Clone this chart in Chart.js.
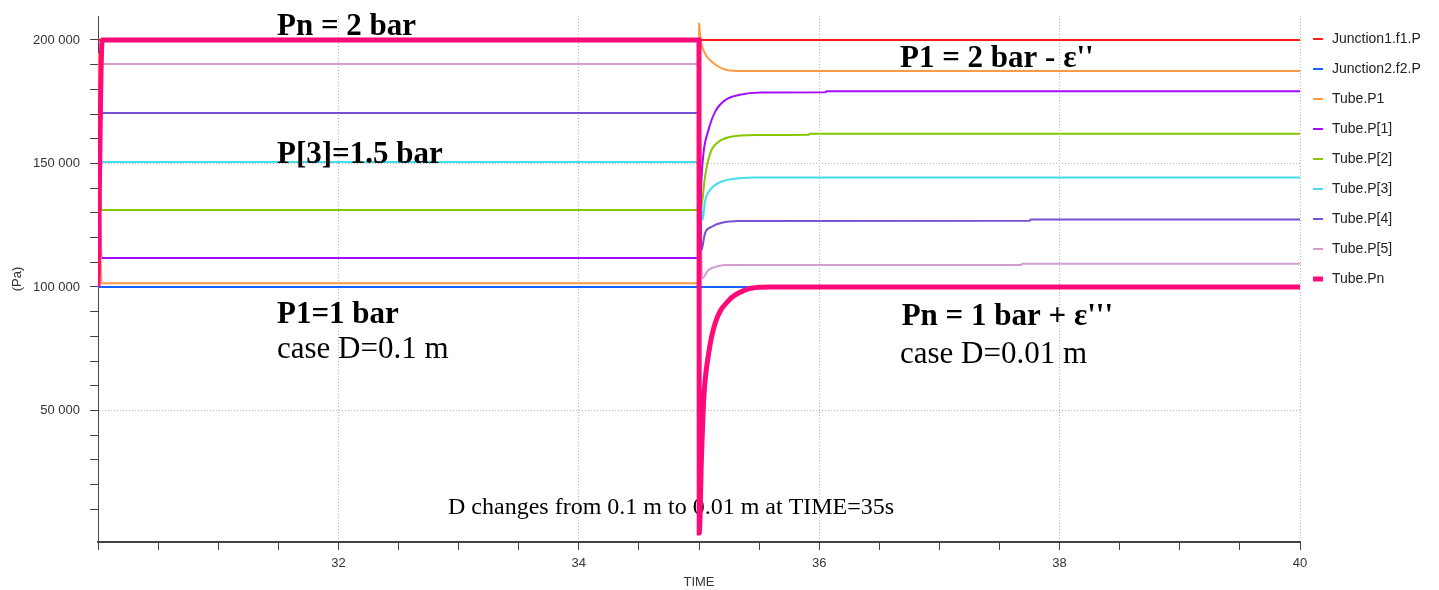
<!DOCTYPE html>
<html>
<head>
<meta charset="utf-8">
<script src="https://cdn.jsdelivr.net/npm/chart.js@4/dist/chart.umd.min.js"></script>
<style>
  body { margin: 0; background: #fff; }
  #wrap { width: 1439px; height: 590px; }
</style>
</head>
<body>
<div id="wrap"><canvas id="pressureChart"></canvas></div>
<script>
// time (s) / pressure (Pa) pairs
const tJ1 = [30, 40];
const pJ1 = [200000, 200000];
const tJ2 = [30, 40];
const pJ2 = [100000, 100000];
const tP1 = [30, 30.03, 35, 35.001, 35.01, 35.05, 35.107, 35.19, 35.315, 40];
const pP1 = [194600, 101500, 101500, 206700, 201300, 194600, 191200, 188500, 187400, 187400];
const tP_1 = [30, 30.03, 35, 35.02, 35.037, 35.079, 35.135, 35.22, 35.33, 35.52, 36.05, 36.06, 40];
const pP_1 = [185100, 111700, 111700, 143000, 154100, 163600, 171000, 175700, 177700, 178700, 178800, 179200, 179200];
const tP_2 = [30, 30.03, 35, 35.02, 35.05, 35.093, 35.163, 35.246, 35.48, 35.91, 35.92, 40];
const pP_2 = [166500, 131200, 131200, 132500, 144700, 154100, 158800, 160600, 161500, 161600, 162000, 162000];
const tP_3 = [30, 30.03, 35, 35.03, 35.05, 35.093, 35.19, 35.33, 35.48, 40];
const pP_3 = [147400, 150600, 150600, 127100, 134600, 139300, 142700, 144000, 144300, 144300];
const tP_4 = [30, 30.03, 35, 35.02, 35.05, 35.107, 35.19, 35.33, 37.75, 37.76, 40];
const pP_4 = [129100, 170400, 170400, 115000, 121700, 124400, 126000, 126700, 126800, 127300, 127300];
const tP_5 = [30, 35, 35.025, 35.079, 35.163, 35.23, 37.68, 37.69, 40];
const pP_5 = [190300, 190300, 103500, 106900, 108500, 108900, 108900, 109400, 109400];
const tPn = [30, 30.035, 35, 35.002, 35.02, 35.04, 35.08, 35.135, 35.25, 35.385, 35.5, 35.6, 40];
const pPn = [100000, 200000, 200000, 400, 30000, 55000, 73000, 85400, 94700, 98800, 99900, 100000, 100000];

const seriesNames = ['Junction1.f1.P', 'Junction2.f2.P', 'Tube.P1', 'Tube.P[1]', 'Tube.P[2]',
  'Tube.P[3]', 'Tube.P[4]', 'Tube.P[5]', 'Tube.Pn'];
const seriesTimes = [tJ1, tJ2, tP1, tP_1, tP_2, tP_3, tP_4, tP_5, tPn];
const seriesValues = [pJ1, pJ2, pP1, pP_1, pP_2, pP_3, pP_4, pP_5, pPn];
const seriesColors = ['#ff1a1a', '#1463ff', '#ff9a40', '#a50cff', '#86c800',
  '#45dcec', '#7650d2', '#d49ed2', '#ff0a78'];

// y ticks every 10 000 Pa, labelled every 50 000
const yTicks = [10000, 20000, 30000, 40000, 50000, 60000, 70000, 80000, 90000, 100000,
  110000, 120000, 130000, 140000, 150000, 160000, 170000, 180000, 190000, 200000];
const yLabelled = [50000, 100000, 150000, 200000];
const xLabelled = [32, 34, 36, 38, 40];

// text written on the plot, placed in data units
const notes = [
  { text: 'Pn = 2 bar', t: 31.489, p: 202000, bold: true, size: 31 },
  { text: 'P[3]=1.5 bar', t: 31.489, p: 150200, bold: true, size: 31 },
  { text: "P1 = 2 bar - ε''", t: 36.672, p: 189100, bold: true, size: 31 },
  { text: 'P1=1 bar', t: 31.489, p: 85300, bold: true, size: 31 },
  { text: 'case D=0.1 m', t: 31.489, p: 71100, bold: false, size: 31 },
  { text: "Pn = 1 bar + ε'''", t: 36.686, p: 84600, bold: true, size: 31 },
  { text: 'case D=0.01 m', t: 36.672, p: 69400, bold: false, size: 31 },
  { text: 'D changes from 0.1 m to 0.01 m at TIME=35s', t: 32.912, p: 7970, bold: false, size: 24, under: true }
];

const fmtPa = v => String(v).replace(/\B(?=(\d{3})+(?!\d))/g, ' ');

function drawNotes(chart, under) {
  const ctx = chart.ctx;
  ctx.save();
  ctx.fillStyle = '#000';
  ctx.textAlign = 'left';
  ctx.textBaseline = 'alphabetic';
  notes.filter(n => !!n.under === under).forEach(n => {
    ctx.font = (n.bold ? 'bold ' : '') + n.size + 'px "Liberation Serif", "Times New Roman", serif';
    ctx.fillText(n.text, chart.scales.x.getPixelForValue(n.t), chart.scales.y.getPixelForValue(n.p));
  });
  ctx.restore();
}

const notesPlugin = {
  id: 'notes',
  beforeInit(chart) {
    const fit = chart.legend.fit;
    chart.legend.fit = function () {
      fit.call(this);
      this.width = 139;
    };
  },
  afterLayout(chart) {
    chart.legend.left -= 5;
    chart.legend.right -= 5;
  },
  beforeDatasetsDraw(chart) { drawNotes(chart, true); },
  afterDatasetsDraw(chart) { drawNotes(chart, false); }
};

const datasets = seriesNames.map((name, i) => ({
  label: name,
  data: seriesTimes[i].map((t, j) => ({ x: t, y: seriesValues[i][j] })),
  borderColor: seriesColors[i],
  backgroundColor: seriesColors[i],
  borderWidth: name === 'Tube.Pn' ? 5 : 2,
  pointRadius: 0,
  cubicInterpolationMode: 'monotone',
  order: name === 'Tube.Pn' ? 0 : 1
}));

const axisFont = { family: '"Liberation Sans", Arial, sans-serif', size: 13 };
const gridGrey = '#b4b4b4';
const none = 'rgba(0,0,0,0)';

new Chart(document.getElementById('pressureChart'), {
  type: 'line',
  data: { datasets },
  plugins: [notesPlugin],
  options: {
    responsive: true,
    maintainAspectRatio: false,
    animation: false,
    layout: { padding: { top: 16 } },
    scales: {
      x: {
        type: 'linear',
        min: 30,
        max: 40,
        afterFit: s => { s.height = 48; },
        ticks: {
          stepSize: 0.5,
          autoSkip: false,
          maxRotation: 0,
          padding: 6,
          color: '#333',
          font: axisFont,
          callback: v => (xLabelled.includes(v) ? String(v) : '')
        },
        grid: {
          color: c => (c.tick && xLabelled.includes(c.tick.value) ? gridGrey : none),
          tickColor: '#444',
          tickLength: 8
        },
        border: { color: '#444', width: 2, dash: [1, 2] },
        title: {
          display: true,
          text: 'TIME',
          color: '#333',
          font: axisFont,
          padding: { top: 0, bottom: 0 }
        }
      },
      y: {
        min: -3240,
        max: 209700,
        afterBuildTicks: s => { s.ticks = yTicks.map(v => ({ value: v })); },
        afterFit: s => { s.width = 98; s.paddingTop = 0; s.paddingBottom = 0; },
        ticks: {
          autoSkip: false,
          padding: 10,
          color: '#333',
          font: axisFont,
          callback: v => (yLabelled.includes(v) ? fmtPa(v) : '')
        },
        grid: {
          color: c => (c.tick && yLabelled.includes(c.tick.value) ? gridGrey : none),
          tickColor: '#444',
          tickLength: 8
        },
        border: { color: '#444', width: 1, dash: [1, 2] },
        title: {
          display: true,
          text: '(Pa)',
          color: '#333',
          font: axisFont,
          padding: { top: 10, bottom: 0 }
        }
      }
    },
    plugins: {
      legend: {
        position: 'right',
        align: 'start',
        labels: {
          usePointStyle: true,
          pointStyle: 'line',
          boxHeight: 7,
          padding: 16,
          color: '#222',
          font: { family: '"Liberation Sans", Arial, sans-serif', size: 14 },
          sort: (a, b) => a.datasetIndex - b.datasetIndex
        }
      },
      tooltip: { enabled: false }
    }
  }
});
</script>
</body>
</html>
